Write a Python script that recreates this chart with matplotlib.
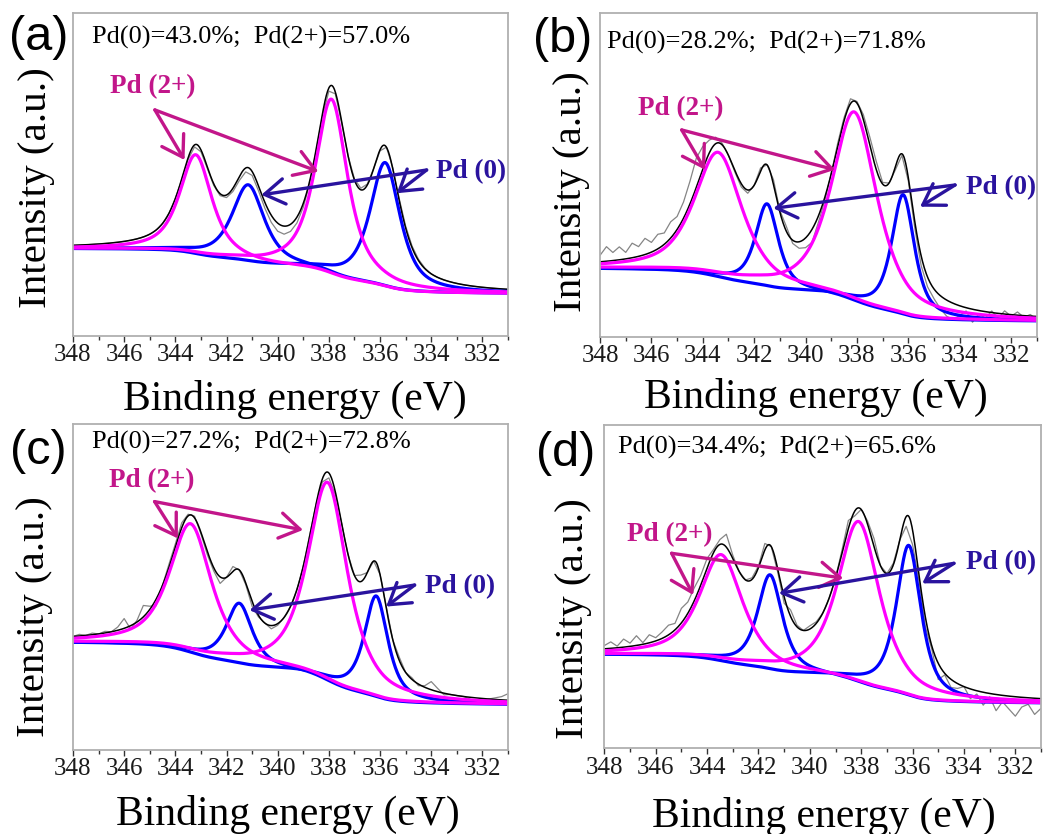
import numpy as np
import matplotlib
matplotlib.use('Agg')
import matplotlib.pyplot as plt
from matplotlib.ticker import MultipleLocator

plt.rcParams['font.family'] = 'serif'
plt.rcParams['font.serif'] = ['Liberation Serif', 'DejaVu Serif']
SERIF = 'Liberation Serif'

# panel texts
panel_labels = ['(a)', '(b)', '(c)', '(d)']
ratio_texts = ['Pd(0)=43.0%;  Pd(2+)=57.0%', 'Pd(0)=28.2%;  Pd(2+)=71.8%',
               'Pd(0)=27.2%;  Pd(2+)=72.8%', 'Pd(0)=34.4%;  Pd(2+)=65.6%']

# fitted components (binding energy eV, height in % of the frame, FWHM eV)
pd2_center = [[343.2, 337.9], [343.4, 338.1], [343.4, 338.05], [343.45, 338.1]]
pd2_height = [[30.8, 54.2], [38.5, 58.5], [39.5, 61.0], [33.0, 50.0]]
pd2_fwhm = [[1.5, 1.5], [2.2, 2.1], [1.95, 1.85], [2.0, 1.95]]
pd0_center = [[341.15, 335.8], [341.5, 336.2], [341.5, 336.15], [341.55, 336.15]]
pd0_height = [[23.9, 38.4], [25.5, 37.0], [18.5, 31.0], [29.4, 46.5]]
pd0_fwhm = [[1.5, 1.4], [1.05, 1.05], [1.2, 1.1], [1.15, 1.15]]
lor_mix = [0.75, 0.7, 0.75, 0.75]

# Shirley background end levels (348 eV side, 331 eV side)
bg_high = [27.0, 21.0, 33.0, 29.0]
bg_low = [13.2, 4.8, 14.0, 14.0]

# raw spectrum minus fit, every 0.25 eV from 348 to 331 eV
resid_a = [0, 0, 0, 0, 0, 0, 0, 0, 0, 0, 0, 0,
           0, 0, 0, 0,
           0, -0.3, -0.5, -0.6,
           -0.6, -0.5, -0.5, -0.6,
           -0.8, -1.0, -1.2, -1.2,
           -1.2, -1.5, -1.8, -2.2,
           -2.5, -2.5, -2.2, -1.8,
           -1.2, -0.8, -0.6, -0.8,
           -1.0, -0.6, -0.3, 0,
           0.3, 0.5, 0.3, 0,
           -0.3, 0, 0.4, 0.6,
           0.6, 0.5, 0.4, 0.2,
           0, 0, 0, 0, 0, 0, 0, 0, 0, 0, 0, 0,
           0]
resid_b = [2, 4.5, 2.5, 4, 2, 4.5, 3, 5, 3, 4.5, 3.5, 5,
           4, 5, 7, 9,
           7, 4, 2, 0.5,
           0, -0.5, -1, -1,
           0, 1, 0, 1.5,
           0.5, 1.5, -1, -2,
           -3, -4, -2, -1,
           0, 1, 1, 1.5,
           0.5, 1.5, 2.5, 2.5,
           0.5, 0, -1, -0.5,
           -1, -2, -3, -3,
           -3, -4, -5, -5,
           -3, -1, -4, -1,
           -2, 0.5, -1.5, 1,
           -0.5, 1, -0.5, 0.5,
           -1]
resid_c = [0, 0.5, 0, 0.5, 0, 0.5, 0, 1, 3, -1, 0.5, 3.5,
           1, -2, 0, 1,
           1, 1.5, 0.5, 0.5,
           -0.5, -1, -1, -2,
           0, 1.5, 0, -0.5,
           -1.5, -0.5, 0, -1,
           -0.5, 0, 0, 0,
           0, 0.5, 0, -1,
           -1.5, -1, 0, 0,
           0, 2, 0, 0,
           0, 0.5, 0, 1,
           0, 0.5, -0.5, 0.5,
           2.5, 1, -0.5, 0,
           0, 0, -0.5, -1.5,
           -0.5, 0, 0.5, 1,
           2]
resid_d = [1, 2, 0.5, 2.5, 1, 3, 0.5, 2.5, 1, 2, 3, 2,
           4.5, 3.5, 4, 3,
           3, 1, 1.5, 4,
           1, 0, 0, 0.5,
           0.5, 2, 0, -1,
           -2, 2, 0.5, 0,
           1, 0.5, 0, 0,
           0, 1, 2.5, -1.5,
           0, 1, 2.5, 0,
           0, 0.5, 0, -3,
           -4.5, -2, -3, -1,
           -5, -0.5, -2.5, -1.5,
           0, -3, -1, -4,
           -1, -5, -2, -4,
           -6, -3, -2, -5,
           -3]
residuals = [resid_a, resid_b, resid_c, resid_d]

# layout (pixels in a 1047x834 image)
ax_rects = [[0.0697, 0.5971, 0.4155, 0.3873], [0.5731, 0.5965, 0.4171, 0.3882],
            [0.0697, 0.1007, 0.4155, 0.3909], [0.5772, 0.1028, 0.4171, 0.3877]]
label_xy = [(39, 38), (563, 39), (38, 452), (566, 454)]
ratio_xy = [(347.26, 92.3), (347.73, 90.7), (347.26, 94.2), (347.47, 92.9)]
pd2_text_xy = [(344.89, 77.1), (344.85, 70.3), (344.91, 82.5), (345.44, 66.0)]
pd0_text_xy = [(332.45, 50.8), (332.39, 45.9), (332.88, 50.0), (332.56, 57.3)]
pd2_arrows = [[(344.8, 70.0), (343.64, 54.5), (338.41, 50.9)],
              [(344.82, 63.8), (343.91, 51.5), (338.85, 51.5)],
              [(344.81, 76.2), (343.9, 64.9), (339.01, 67.5)],
              [(345.38, 60.3), (344.54, 47.4), (338.7, 52.6)]]
pd0_arrows = [[(334.18, 51.4), (340.64, 43.7), (335.35, 44.2)],
              [(334.18, 46.8), (341.25, 39.6), (335.54, 40.1)],
              [(334.65, 50.6), (341.1, 42.9), (335.76, 44.0)],
              [(334.39, 57.2), (341.2, 47.9), (335.62, 51.0)]]
ylabel_xy = [(-0.041, 0.46), (-0.023, 0.446), (-0.046, 0.41), (-0.028, 0.40)]
xlabel_xy = [(0.51, -0.136), (0.495, -0.128), (0.495, -0.138), (0.502, -0.15)]

pd2_color = '#c2168a'
pd0_color = '#2a139e'


def pseudo_voigt(x, c, h, w, eta):
    d = (x - c) / (w / 2.0)
    return h * (eta / (1 + d ** 2) + (1 - eta) * np.exp(-np.log(2) * d ** 2))


def shirley(peaks_sum, high, low):
    # energies run 348 -> 331, area counted from the low-BE end
    area = np.cumsum(peaks_sum[::-1])[::-1]
    return low + (high - low) * area / area[0]


fit_energy = np.linspace(348, 331, 681)
raw_energy = np.linspace(348, 331, 69)

fig = plt.figure(figsize=(10.47, 8.34), dpi=100)

for i in range(4):
    ax = fig.add_axes(ax_rects[i])

    pd2 = [pseudo_voigt(fit_energy, c, h, w, lor_mix[i])
           for c, h, w in zip(pd2_center[i], pd2_height[i], pd2_fwhm[i])]
    pd0 = [pseudo_voigt(fit_energy, c, h, w, lor_mix[i])
           for c, h, w in zip(pd0_center[i], pd0_height[i], pd0_fwhm[i])]
    total = sum(pd2) + sum(pd0)
    bg = shirley(total, bg_high[i], bg_low[i])
    envelope = bg + total

    ax.plot(raw_energy, envelope[::10] + np.array(residuals[i]), color='#858585', lw=0.9)
    ax.plot(fit_energy, envelope, color='black', lw=1.1)
    for p in pd0:
        ax.plot(fit_energy, bg + p, color='#0000ff', lw=2.3)
    for p in pd2:
        ax.plot(fit_energy, bg + p, color='#ff00ff', lw=2.3)

    ax.set_xlim(348, 331)
    ax.set_ylim(0, 100)
    ax.set_yticks([])
    ax.set_xticks(np.arange(348, 331, -2))
    ax.xaxis.set_minor_locator(MultipleLocator(1))
    ax.tick_params(axis='x', which='both', direction='out', color='#333333',
                   labelsize=18, labelcolor='#1a1a1a', pad=2)
    ax.tick_params(axis='x', which='major', length=4, width=1)
    ax.tick_params(axis='x', which='minor', length=3, width=1)
    for lab in ax.get_xticklabels():
        lab.set_fontfamily(SERIF)
    for s in ax.spines.values():
        s.set_color('#b0b0b0')
        s.set_linewidth(1.3)

    ax.set_xlabel('Binding energy (eV)', fontsize=30, fontfamily=SERIF)
    ax.set_ylabel('Intensity (a.u.)', fontsize=29.5, fontfamily=SERIF)
    ax.xaxis.set_label_coords(*xlabel_xy[i])
    ax.yaxis.set_label_coords(*ylabel_xy[i])

    ax.text(ratio_xy[i][0], ratio_xy[i][1], ratio_texts[i], fontsize=19,
            fontfamily=SERIF, ha='left', va='center', color='black')
    ax.text(pd2_text_xy[i][0], pd2_text_xy[i][1], 'Pd (2+)', fontsize=19.5,
            fontfamily=SERIF, fontweight='bold', ha='center', va='center', color=pd2_color)
    ax.text(pd0_text_xy[i][0], pd0_text_xy[i][1], 'Pd (0)', fontsize=19.5,
            fontfamily=SERIF, fontweight='bold', ha='center', va='center', color=pd0_color)

    for arrows, col in [(pd2_arrows[i], pd2_color), (pd0_arrows[i], pd0_color)]:
        start = arrows[0]
        for head in arrows[1:]:
            ax.annotate('', xy=head, xytext=start,
                        arrowprops=dict(arrowstyle='->,head_length=0.6,head_width=0.38',
                                        color=col, lw=2.4, shrinkA=0, shrinkB=0,
                                        mutation_scale=24))

    fig.text(label_xy[i][0] / 1047, 1 - label_xy[i][1] / 834, panel_labels[i],
             family='Liberation Sans', fontsize=35, ha='center', va='center')

plt.savefig('out.png', dpi=100)
